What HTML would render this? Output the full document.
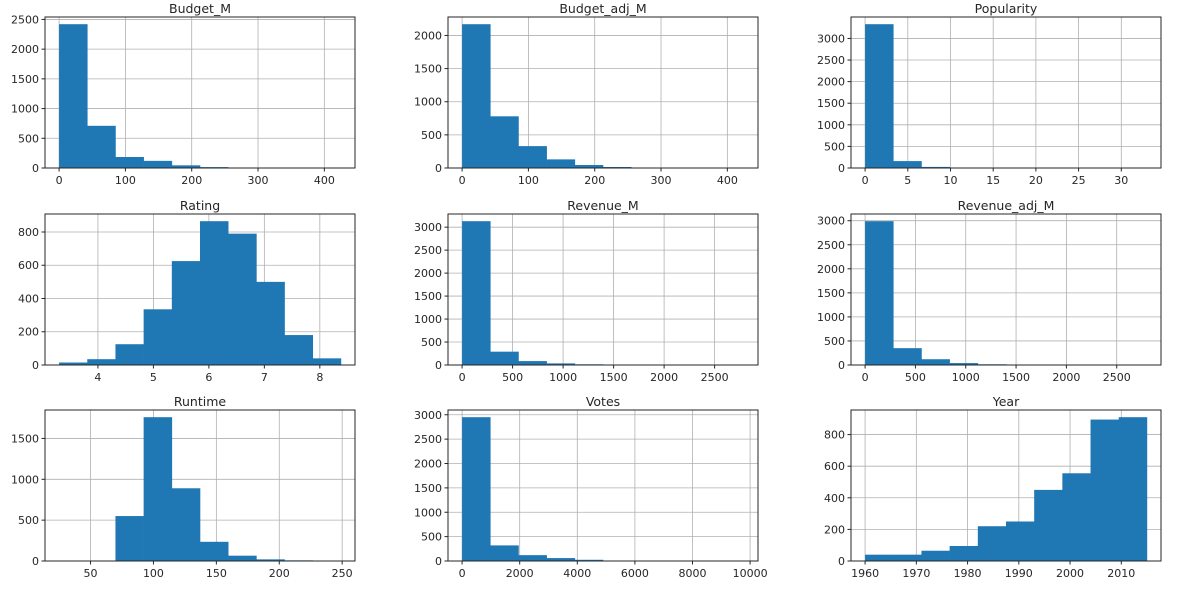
<!DOCTYPE html>
<html><head><meta charset="utf-8"><style>
body{margin:0;background:#fff;}
svg text{font-family:"DejaVu Sans","Liberation Sans",sans-serif;fill:#262626;}
</style></head><body>
<svg id="fig" width="1182" height="589" xmlns="http://www.w3.org/2000/svg"></svg>
<script>
const titles=["Budget_M","Budget_adj_M","Popularity","Rating","Revenue_M","Revenue_adj_M","Runtime","Votes","Year"];
const binMin=[0,0,0,3.3,0,0,25,0,1960];
const binMax=[425,425,33,8.38,2790,2800,249,9785,2015];
const counts=[
[2420,710,185,120,45,15,3,1,0,1],
[2170,780,330,130,45,15,5,2,1,1],
[3330,160,25,5,2,1,0,0,0,1],
[15,35,125,335,625,865,790,500,180,40],
[3130,290,85,35,15,8,5,3,1,5],
[2990,350,120,40,15,8,5,3,2,5],
[1,1,550,1760,890,235,65,20,8,2],
[2950,320,120,60,25,10,5,2,1,1],
[40,40,65,95,220,250,450,555,895,910]];
const xTicks=[[0,100,200,300,400],[0,100,200,300,400],[0,5,10,15,20,25,30],[4,5,6,7,8],[0,500,1000,1500,2000,2500],[0,500,1000,1500,2000,2500],[50,100,150,200,250],[0,2000,4000,6000,8000,10000],[1960,1970,1980,1990,2000,2010]];
const yTicks=[[0,500,1000,1500,2000,2500],[0,500,1000,1500,2000],[0,500,1000,1500,2000,2500,3000],[0,200,400,600,800],[0,500,1000,1500,2000,2500,3000],[0,500,1000,1500,2000,2500,3000],[0,500,1000,1500],[0,500,1000,1500,2000,2500,3000],[0,200,400,600,800]];

const NS="http://www.w3.org/2000/svg";
const svg=document.getElementById('fig');
const colX=[45,448,851],rowY=[17,214,410],W=310,H=151;
function mk(tag,attrs,parent){const e=document.createElementNS(NS,tag);for(const k in attrs)e.setAttribute(k,attrs[k]);parent.appendChild(e);return e;}
for(let p=0;p<9;p++){
  const x0=colX[p%3],y0=rowY[Math.floor(p/3)];
  const g=mk('g',{},svg);
  
  
  const lo=binMin[p],hi=binMax[p],pad=(hi-lo)*0.05;
  const xmin=lo-pad,xmax=hi+pad;
  const ymax=Math.max(...counts[p])*1.05;
  const sx=v=>x0+(v-xmin)/(xmax-xmin)*W;
  const sy=v=>y0+H-v/ymax*H;
  // grid
  xTicks[p].forEach(t=>{const X=sx(t);mk('line',{x1:X,x2:X,y1:y0,y2:y0+H,stroke:'#b0b0b0','stroke-width':0.8},g);});
  yTicks[p].forEach(t=>{const Y=sy(t);mk('line',{x1:x0,x2:x0+W,y1:Y,y2:Y,stroke:'#b0b0b0','stroke-width':0.8},g);});
  // bars
  const bw=(hi-lo)/counts[p].length;
  counts[p].forEach((c,i)=>{
    const a=sx(lo+i*bw),b=sx(lo+(i+1)*bw);
    const r=mk('rect',{x:a,y:sy(c),width:b-a+0.3,height:sy(0)-sy(c),fill:'#1f77b4'},g);
    
    
  });
  // frame
  mk('rect',{x:x0,y:y0,width:W,height:H,fill:'none',stroke:'#262626','stroke-width':1},g);
  // ticks & labels
  xTicks[p].forEach(t=>{const X=sx(t);mk('line',{x1:X,x2:X,y1:y0+H,y2:y0+H+3.5,stroke:'#262626'},g);
    const tx=mk('text',{x:X,y:y0+H+16,'text-anchor':'middle','font-size':11},g);tx.textContent=t;
    });
  yTicks[p].forEach(t=>{const Y=sy(t);mk('line',{x1:x0-3.5,x2:x0,y1:Y,y2:Y,stroke:'#262626'},g);
    const tx=mk('text',{x:x0-6,y:Y+4,'text-anchor':'end','font-size':11},g);tx.textContent=t;
    });
  const tt=mk('text',{x:x0+W/2,y:y0-4,'text-anchor':'middle','font-size':12.5},g);tt.textContent=titles[p];
  
  
}
</script>
</body></html>
